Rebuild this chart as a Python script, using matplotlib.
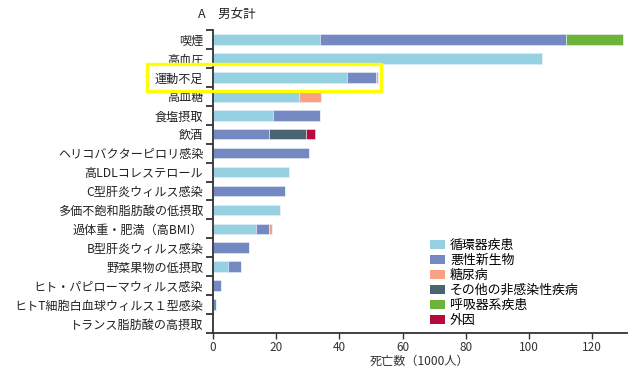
import matplotlib
matplotlib.use("Agg")
import matplotlib.pyplot as plt
from matplotlib.patches import Rectangle, Patch
import numpy as np

plt.rcParams['font.family'] = ['Noto Sans CJK JP', 'DejaVu Sans']

# ---------- データ (死亡数, 1000人) ----------
risks = ["喫煙", "高血圧", "運動不足", "高血糖", "食塩摂取", "飲酒",
         "ヘリコバクターピロリ感染", "高LDLコレステロール", "C型肝炎ウィルス感染",
         "多価不飽和脂肪酸の低摂取", "過体重・肥満（高BMI）", "B型肝炎ウィルス感染",
         "野菜果物の低摂取", "ヒト・パピローマウィルス感染",
         "ヒトT細胞白血球ウィルス１型感染", "トランス脂肪酸の高摂取"]
causes = ["循環器疾患", "悪性新生物", "糖尿病", "その他の非感染性疾病",
          "呼吸器系疾患", "外因"]
colors = ["#96d1e2", "#7489c2", "#f9a184", "#4a6571", "#6bb33b", "#b8093f"]

circulatory = [33.7, 104.2, 42.3, 27.1, 19.1, 0, 0, 23.9, 0, 21.1, 13.5, 0, 4.7, 0, 0, 0]
cancer      = [78.1, 0, 9.3, 0, 14.9, 17.7, 30.5, 0, 22.9, 0, 4.2, 11.4, 4.1, 2.6, 0.85, 0]
diabetes    = [0, 0, 0.7, 7.2, 0, 0, 0, 0, 0, 0, 1.1, 0, 0, 0, 0, 0]
other_ncd   = [0, 0, 0, 0, 0, 11.6, 0, 0, 0, 0, 0, 0, 0, 0, 0, 0]
respiratory = [17.9, 0, 0, 0, 0, 0, 0, 0, 0, 0, 0, 0, 0, 0, 0, 0]
external    = [0, 0, 0, 0, 0, 3.0, 0, 0, 0, 0, 0, 0, 0, 0, 0, 0]

series = [circulatory, cancer, diabetes, other_ncd, respiratory, external]
highlight = "運動不足"

# ---------- 描画 ----------
W, H = 639, 383
fig = plt.figure(figsize=(W / 100, H / 100), dpi=100)
ax = fig.add_axes([213 / W, 1 - 333 / H, (627 - 213) / W, (333 - 30) / H])

y = np.arange(len(risks))
left = np.zeros(len(risks))
for vals, c, name in zip(series, colors, causes):
    vals = np.array(vals, dtype=float)
    ax.barh(y, vals, left=left, height=0.56, color=c, edgecolor="#e8eef6",
            linewidth=0.4, label=name)
    left += vals

ax.set_ylim(len(risks) - 0.5, -0.5)
ax.set_xlim(0, 131)

ax.set_yticks(y)
ax.set_yticklabels(risks, fontsize=8.7, color="#222222")
ax.set_yticks(np.arange(len(risks) + 1) - 0.5, minor=True)
ax.tick_params(axis="y", which="major", length=0, pad=7)
ax.tick_params(axis="y", which="minor", length=5, width=1.3, color="#333333")

ax.set_xticks(np.arange(0, 121, 20))
ax.tick_params(axis="x", length=4, width=1.0, color="#333333", pad=1.5,
               labelsize=8.5, labelcolor="#333333")

for s in ("top", "right"):
    ax.spines[s].set_visible(False)
for s in ("left", "bottom"):
    ax.spines[s].set_color("#333333")
    ax.spines[s].set_linewidth(1.3)

ax.set_xlabel("死亡数（1000人）", fontsize=8.7, color="#333333", labelpad=1)

fig.text(198 / W, 1 - 15 / H, "A\u3000男女計", fontsize=9, va="center",
         color="#222222")

handles = [Patch(facecolor=c, edgecolor="none") for c in colors]
ax.legend(handles, causes, loc="upper left", bbox_to_anchor=(430 / W, 1 - 239 / H),
          bbox_transform=fig.transFigure, frameon=False, fontsize=9.3,
          handlelength=1.15, handleheight=0.7, handletextpad=0.4,
          labelspacing=0.15, borderpad=0, borderaxespad=0)

# ---------- 強調枠 ----------
i = risks.index(highlight)
x_end = ax.transData.transform((left[i], i))[0] + 3
y_top = ax.transData.transform((0, i - 0.7))[1]
y_bot = ax.transData.transform((0, i + 0.7))[1]
x0 = 147
fig.patches.append(Rectangle((x0 / W, y_bot / H), (x_end - x0) / W, (y_top - y_bot) / H,
                             transform=fig.transFigure, fill=False,
                             edgecolor="#ffff00", linewidth=2.4, zorder=10))

fig.savefig("out.png", dpi=100)
